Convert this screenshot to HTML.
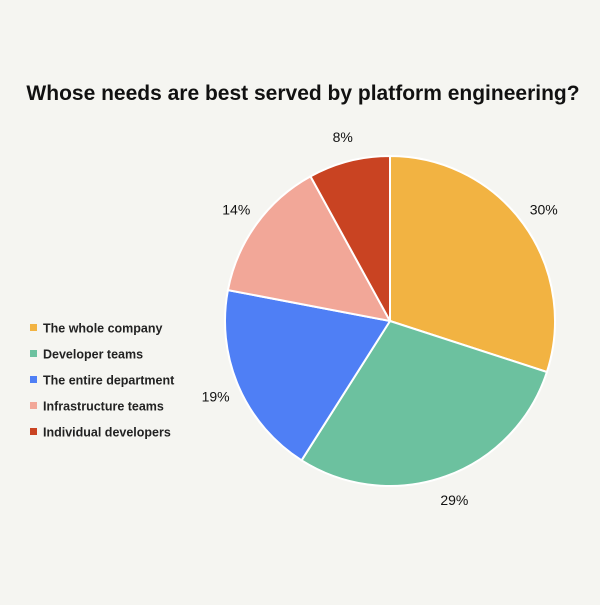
<!DOCTYPE html>
<html><head><meta charset="utf-8">
<style>
body{margin:0;background:#f5f5f1;font-family:"Liberation Sans",sans-serif;}
#wrap{position:relative;width:600px;height:600px;background:#f5f5f1;}
</style></head>
<body>
<div id="wrap">
<svg id="chart" width="600" height="600">
<text x="303" y="100" text-anchor="middle" font-size="21" font-weight="bold" fill="#111">Whose needs are best served by platform engineering?</text>
<g id="slices"></g>
<g id="labels"></g>
<g id="legend"></g>
</svg>
</div>
<script>
const categories=["The whole company","Developer teams","The entire department","Infrastructure teams","Individual developers"];
const values=[30,29,19,14,8];
const colors=["#f2b342","#6cc19f","#4f7ff5","#f2a798","#c94322"];
const cx=390,cy=321,R=165,LR=190;
const ns="http://www.w3.org/2000/svg";
const total=values.reduce((a,b)=>a+b,0);
function pt(a,r){return [cx+r*Math.sin(a),cy-r*Math.cos(a)];}
let acc=0;
const sg=document.getElementById('slices'),lg=document.getElementById('labels'),leg=document.getElementById('legend');
values.forEach((v,i)=>{
  const a0=acc/total*2*Math.PI;acc+=v;const a1=acc/total*2*Math.PI;
  const p0=pt(a0,R),p1=pt(a1,R);
  const large=(a1-a0)>Math.PI?1:0;
  const path=document.createElementNS(ns,'path');
  path.setAttribute('d',`M${cx},${cy}L${p0[0]},${p0[1]}A${R},${R} 0 ${large} 1 ${p1[0]},${p1[1]}Z`);
  path.setAttribute('fill',colors[i]);path.setAttribute('stroke','#fff');path.setAttribute('stroke-width','2');
  
  
  sg.appendChild(path);
  const m=(a0+a1)/2,lp=pt(m,LR);
  const t=document.createElementNS(ns,'text');
  t.setAttribute('x',lp[0]);t.setAttribute('y',lp[1]+5);t.setAttribute('text-anchor','middle');
  t.setAttribute('font-size','14');t.setAttribute('fill','#111');
  t.textContent=v+'%';
  
  
  lg.appendChild(t);
  const y=328+i*26;
  const r=document.createElementNS(ns,'rect');
  r.setAttribute('x',30);r.setAttribute('y',y-4);r.setAttribute('width',7);r.setAttribute('height',7);r.setAttribute('fill',colors[i]);
  
  
  leg.appendChild(r);
  const lt=document.createElementNS(ns,'text');
  lt.setAttribute('x',43);lt.setAttribute('y',y+4.5);lt.setAttribute('font-size','12.5');lt.setAttribute('font-weight','bold');lt.setAttribute('fill','#222');
  lt.textContent=categories[i];
  
  
  leg.appendChild(lt);
});
</script>
</body></html>
